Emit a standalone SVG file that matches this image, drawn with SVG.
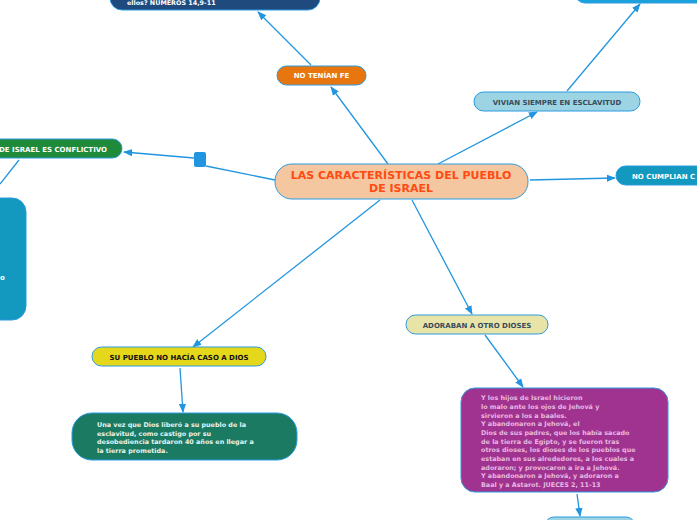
<svg xmlns="http://www.w3.org/2000/svg" width="697" height="520" viewBox="0 0 697 520">
<defs>
<marker id="a" viewBox="0 0 10 10" refX="9" refY="5" markerWidth="7" markerHeight="7" orient="auto"><path d="M0,1 L10,5 L0,9 z" fill="#2196e0"/></marker>
<style>
.c{stroke:#2196e0;stroke-width:1.3;fill:none}
.n{stroke:#2a9be0;stroke-width:1}
text{font-family:"DejaVu Sans",Verdana,sans-serif;font-weight:bold}
.s{font-size:7px}
.b{font-size:6.4px}
</style>
</defs>
<rect width="697" height="520" fill="#fff"/>
<g id="connectors">
<path class="c" d="M388,164 L331,87" marker-end="url(#a)"/>
<path class="c" d="M311,65 L258,12" marker-end="url(#a)"/>
<path class="c" d="M275,180 L206,166"/>
<path class="c" d="M194,158 L124,152" marker-end="url(#a)"/>
<rect x="194" y="152" width="12" height="15" rx="2" fill="#2196e0"/>
<path class="c" d="M19,160 L0,184"/>
<path class="c" d="M438,164 L537,112" marker-end="url(#a)"/>
<path class="c" d="M567,91 L640,4" marker-end="url(#a)"/>
<path class="c" d="M530,180 L615,178" marker-end="url(#a)"/>
<path class="c" d="M412,200 L472,314" marker-end="url(#a)"/>
<path class="c" d="M485,335 L523,387" marker-end="url(#a)"/>
<path class="c" d="M577,494 L580,516" marker-end="url(#a)"/>
<path class="c" d="M380,200 L193,347" marker-end="url(#a)"/>
<path class="c" d="M180,368 L183,412" marker-end="url(#a)"/>
</g>
<g id="central"><rect class="n" x="275" y="164" width="253" height="35" rx="17" fill="#f4c7a0"/>
<text x="401" y="179" text-anchor="middle" font-size="11" fill="#ff4a12">LAS CARACTERÍSTICAS DEL PUEBLO</text>
<text x="401" y="192" text-anchor="middle" font-size="11" fill="#ff4a12">DE ISRAEL</text></g>
<g id="noteniafe"><rect class="n" x="277" y="66" width="89" height="19" rx="9.5" fill="#e8760f"/>
<text x="321.5" y="78" text-anchor="middle" class="s" fill="#fff">NO TENÍAN FE</text></g>
<g id="numeros"><rect class="n" x="110" y="-30" width="210" height="40" rx="12" fill="#1f4a7d"/>
<text x="127" y="5" class="b" fill="#fff">ellos? NUMEROS 14,9-11</text></g>
<g id="conflictivo"><rect class="n" x="-40" y="139" width="162" height="19" rx="9.5" fill="#1e8a3a"/>
<text x="107" y="152" text-anchor="end" class="s" fill="#fff">DE ISRAEL ES CONFLICTIVO</text></g>
<g id="leftteal"><rect class="n" x="-60" y="198" width="86" height="122" rx="14" fill="#1398c0"/>
<text x="0" y="280" class="s" fill="#fff">o</text></g>
<g id="vivian"><rect class="n" x="474" y="92" width="166" height="19" rx="9.5" fill="#9cd4e4"/>
<text x="557" y="105" text-anchor="middle" class="s" fill="#3a4a5a">VIVIAN SIEMPRE EN ESCLAVITUD</text></g>
<g id="topright"><rect class="n" x="575" y="-30" width="140" height="33" rx="10" fill="#1ba1dc"/></g>
<g id="nocumplian"><rect class="n" x="616" y="166" width="100" height="19" rx="9.5" fill="#1398c0"/>
<text x="632" y="179" class="s" fill="#fff">NO CUMPLIAN C</text></g>
<g id="adoraban"><rect class="n" x="406" y="315" width="142" height="19" rx="9.5" fill="#e8e4a8"/>
<text x="477" y="328" text-anchor="middle" class="s" fill="#3a4a5a">ADORABAN A OTRO DIOSES</text></g>
<g id="jueces"><rect class="n" x="461" y="388" width="207" height="104" rx="14" fill="#a0338f"/>
<g class="b" fill="#e8b8e0">
<text x="481" y="400">Y los hijos de Israel hicieron</text>
<text x="481" y="409">lo malo ante los ojos de Jehová y</text>
<text x="481" y="417.5">sirvieron a los a baales.</text>
<text x="481" y="426">Y abandonaron a Jehová, el</text>
<text x="481" y="435">Dios de sus padres, que los había sacado</text>
<text x="481" y="443.5">de la tierra de Egipto, y se fueron tras</text>
<text x="481" y="452">otros dioses, los dioses de los pueblos que</text>
<text x="481" y="461">estaban en sus alrededores, a los cuales a</text>
<text x="481" y="469.5">adoraron; y provocaron a ira a Jehová.</text>
<text x="481" y="478">Y abandonaron a Jehová, y adoraron a</text>
<text x="481" y="487">Baal y a Astarot. JUECES 2, 11-13</text>
</g></g>
<g id="bottom"><rect class="n" x="545" y="517" width="90" height="20" rx="9" fill="#9cd4e4"/></g>
<g id="supueblo"><rect class="n" x="92" y="347" width="174" height="19" rx="9.5" fill="#e5d81b"/>
<text x="179" y="360" text-anchor="middle" class="s" fill="#111">SU PUEBLO NO HACÍA CASO A DIOS</text></g>
<g id="unavez"><rect class="n" x="72" y="413" width="225" height="47" rx="20" fill="#1b7a62"/>
<g class="b" fill="#e8f4ee">
<text x="97" y="427">Una vez que Dios liberó a su pueblo de la</text>
<text x="97" y="435.5">esclavitud, como castigo por su</text>
<text x="97" y="444">desobediencia tardaron 40 años en llegar a</text>
<text x="97" y="453">la tierra prometida.</text>
</g></g>
</svg>
